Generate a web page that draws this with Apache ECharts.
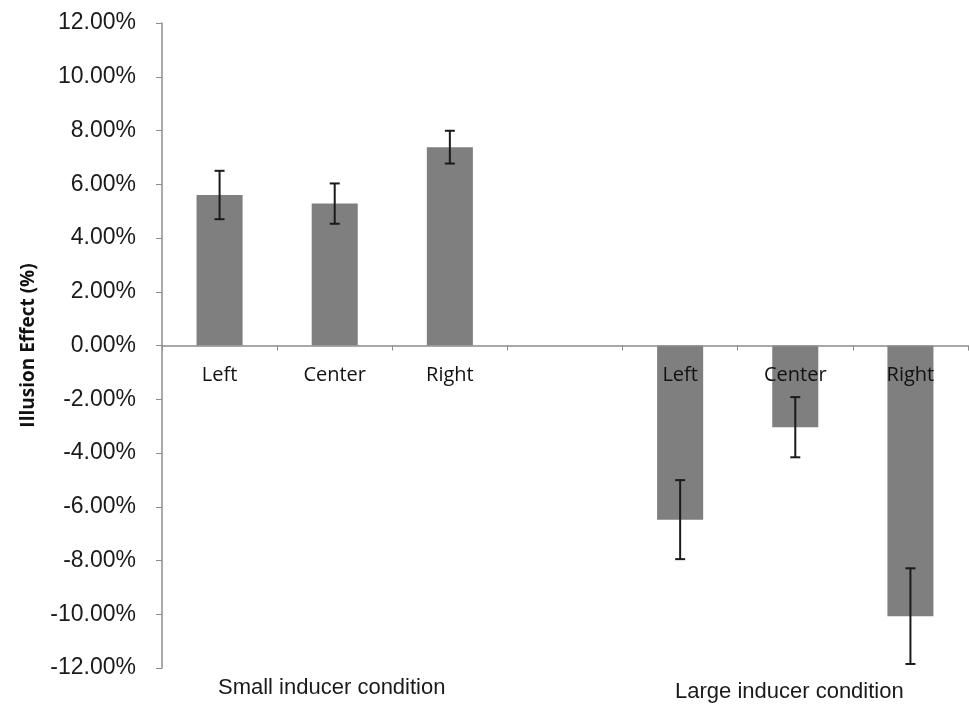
<!DOCTYPE html>
<html><head><meta charset="utf-8">
<script src="https://cdn.jsdelivr.net/npm/echarts@6/dist/echarts.min.js"></script>
<style>html,body{margin:0;padding:0;background:#fff}#c{width:970px;height:704px}</style>
</head><body><div id="c"></div>
<script>
const categories = ['Left', 'Center', 'Right', '', 'Left', 'Center', 'Right'];
const values = [5.6, 5.28, 7.38, null, -6.48, -3.04, -10.07];
const errors = [0.9, 0.75, 0.61, null, 1.47, 1.12, 1.78];
const yTicks = { min: -12, max: 12, interval: 2 };
const groupLabels = ['Small inducer condition', 'Large inducer condition'];

const chart = echarts.init(document.getElementById('c'), null, { renderer: 'canvas' });
const errData = values.map((v, i) => v == null ? null : [i, v - errors[i], v + errors[i]]).filter(d => d);
const catLabelData = categories.map((c, i) => [i, 0, c]).filter(d => d[2] !== '');

chart.setOption({
  animation: false,
  backgroundColor: '#fff',
  grid: { left: 162, right: 2, top: 23, bottom: 36, containLabel: false },
  xAxis: {
    type: 'category', data: categories, z: 10,
    axisLine: { onZero: true, lineStyle: { color: '#8c8c8c', width: 1.5 } },
    axisTick: { show: true, length: 5, inside: false, lineStyle: { color: '#8c8c8c' } },
    axisLabel: { show: false },
    splitLine: { show: false }
  },
  yAxis: {
    type: 'value', min: yTicks.min, max: yTicks.max, interval: yTicks.interval,
    name: 'Illusion Effect (%)', nameLocation: 'middle', nameRotate: 90, nameGap: 124,
    nameTextStyle: { fontSize: 19, fontWeight: 'bold', color: '#111', fontFamily: 'Open Sans' },
    axisLine: { show: true, lineStyle: { color: '#8c8c8c', width: 1.5 } },
    axisTick: { show: true, length: 6, lineStyle: { color: '#8c8c8c' } },
    axisLabel: { margin: 26, color: '#1a1a1a', fontSize: 23, fontFamily: 'Liberation Sans',
      formatter: v => v.toFixed(2) + '%' },
    splitLine: { show: false }
  },
  series: [
    { type: 'bar', data: values, barWidth: '40%', itemStyle: { color: '#7f7f7f' }, z: 2 },
    { type: 'custom', z: 11, data: errData,
      renderItem: function (params, api) {
        const x = api.value(0);
        const lo = api.coord([x, api.value(1)]);
        const hi = api.coord([x, api.value(2)]);
        const w = 5;
        const style = { stroke: '#1a1a1a', lineWidth: 2 };
        return { type: 'group', children: [
          { type: 'line', shape: { x1: lo[0], y1: lo[1], x2: hi[0], y2: hi[1] }, style },
          { type: 'line', shape: { x1: lo[0] - w, y1: lo[1], x2: lo[0] + w, y2: lo[1] }, style },
          { type: 'line', shape: { x1: hi[0] - w, y1: hi[1], x2: hi[0] + w, y2: hi[1] }, style }
        ]};
      }
    },
    { type: 'custom', z: 12, data: catLabelData, silent: true,
      renderItem: function (params, api) {
        const p = api.coord([api.value(0), api.value(1)]);
        return { type: 'text', x: p[0], y: p[1] + 20,
          style: { text: catLabelData[params.dataIndex][2], fontSize: 20, fontFamily: 'Open Sans',
            fill: '#111', align: 'center', verticalAlign: 'top' } };
      }
    }
  ],
  graphic: [
    { type: 'text', left: 218, top: 677, style: { text: groupLabels[0], fontSize: 22, fill: '#1a1a1a', fontFamily: 'Liberation Sans' } },
    { type: 'text', left: 675, top: 681, style: { text: groupLabels[1], fontSize: 22, fill: '#1a1a1a', fontFamily: 'Liberation Sans' } }
  ]
});
</script></body></html>
